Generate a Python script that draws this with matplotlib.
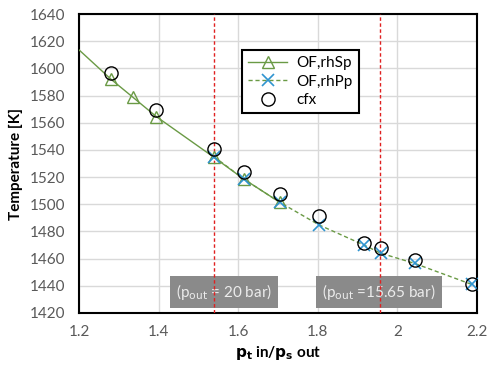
import matplotlib
matplotlib.use("Agg")
import matplotlib.pyplot as plt

plt.rcParams['font.family'] = ['Lato', 'DejaVu Sans']

# Data
x_rhSp = [1.2, 1.28, 1.334, 1.394, 1.539, 1.614, 1.704]
y_rhSp = [1613.5, 1592, 1579, 1564.5, 1534.5, 1518.5, 1501.5]

x_rhPp = [1.539, 1.614, 1.704, 1.803, 1.916, 1.958, 2.043, 2.187]
y_rhPp = [1535, 1518.5, 1501.5, 1484.8, 1470, 1464, 1456.5, 1441]

x_cfx = [1.28, 1.394, 1.539, 1.614, 1.704, 1.803, 1.916, 1.958, 2.043, 2.187]
y_cfx = [1596.4, 1569.4, 1540.4, 1524, 1507.5, 1491.6, 1471.7, 1468, 1459, 1441.3]

vlines = [1.539, 1.957]
box_labels = [r"(p$_{\rm out}$ = 20 bar)", r"(p$_{\rm out}$ =15.65 bar)"]
box_x = [1.564, 1.953]
box_y = [1435.5, 1435.5]

xticks = [1.2, 1.4, 1.6, 1.8, 2.0, 2.2]
xticklabels = ["1.2", "1.4", "1.6", "1.8", "2", "2.2"]
yticks = list(range(1420, 1641, 20))

fig = plt.figure(figsize=(4.92, 3.65), dpi=100)
ax = fig.add_axes([0.161, 0.1425, 0.8085, 0.819])

green = '#6a9a45'
blue = '#2f94d0'

ax.plot(x_rhSp, y_rhSp, '-', color=green, lw=1.0, marker='^', markersize=8,
        markerfacecolor='none', markeredgecolor=green, markeredgewidth=1.0,
        markevery=list(range(1, len(x_rhSp))), label='OF,rhSp', zorder=4)
ax.plot(x_rhPp, y_rhPp, '--', color=green, lw=1.0, dashes=(3, 2), marker='x', markersize=8,
        markeredgecolor=blue, markeredgewidth=1.2, label='OF,rhPp', zorder=4)
ax.plot(x_cfx, y_cfx, 'o', markersize=9.5, markerfacecolor='none',
        markeredgecolor='black', markeredgewidth=1.0, label='cfx', zorder=5)

for xv in vlines:
    ax.axvline(xv, color='#e02020', lw=1.0, ls=(0, (2.5, 1.8)), zorder=3)

for lab, bx, by in zip(box_labels, box_x, box_y):
    ax.text(bx, by, lab, ha='center', va='center', fontsize=11, color='#ececec',
            bbox=dict(boxstyle='square,pad=0.4', facecolor='#8a8a8a', edgecolor='none'),
            zorder=2)

ax.set_xlim(1.2, 2.2)
ax.set_ylim(1420, 1640)
ax.set_xticks(xticks)
ax.set_xticklabels(xticklabels)
ax.set_yticks(yticks)
ax.grid(True, color='#d9d9d9', lw=1.0, zorder=0)
ax.set_axisbelow(True)
ax.tick_params(axis='both', length=0, labelsize=11, labelcolor='#595959')
ax.tick_params(axis='y', pad=10)
ax.tick_params(axis='x', pad=9)
for s in ax.spines.values():
    s.set_linewidth(1.5)
    s.set_color('black')

ax.set_xlabel(r"$\mathbf{p_t}$ in/$\mathbf{p_s}$ out", fontsize=11, fontweight='bold', labelpad=3)
ax.set_ylabel("Temperature [K]", fontsize=11, fontweight='bold', labelpad=5)

leg = ax.legend(loc='upper left', bbox_to_anchor=(0.389, 0.905), fontsize=11,
                frameon=True, fancybox=False, edgecolor='black', framealpha=1,
                handlelength=2.6, borderpad=0.4, labelspacing=0.3, handletextpad=0.6)
leg.get_frame().set_linewidth(1.5)

fig.savefig('out.png', dpi=100)
